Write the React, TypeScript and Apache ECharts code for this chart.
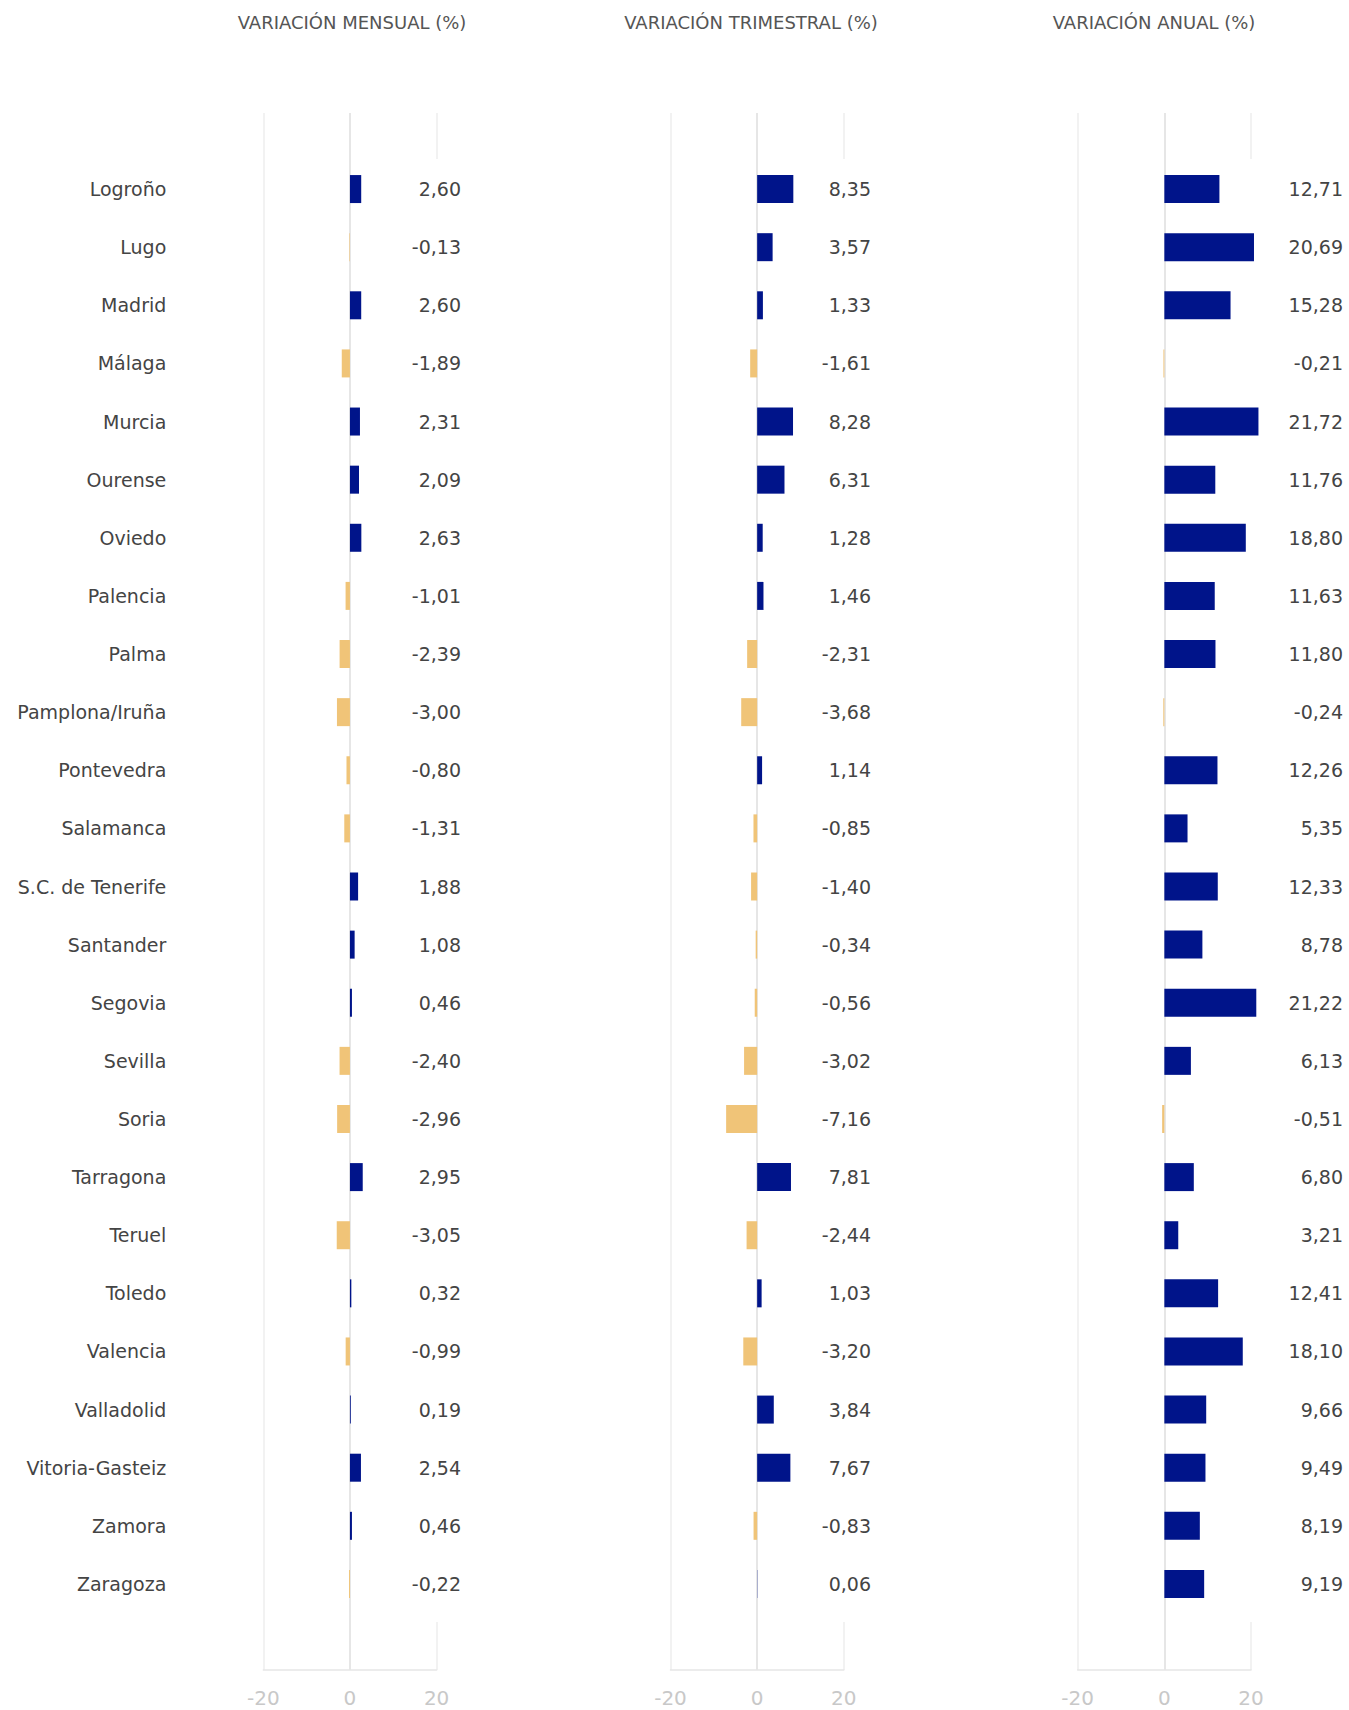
import React, { useEffect, useRef } from "react";
import * as echarts from "echarts";

const categories = [
  "Logroño", "Lugo", "Madrid", "Málaga", "Murcia", "Ourense", "Oviedo", "Palencia",
  "Palma", "Pamplona/Iruña", "Pontevedra", "Salamanca", "S.C. de Tenerife", "Santander",
  "Segovia", "Sevilla", "Soria", "Tarragona", "Teruel", "Toledo", "Valencia",
  "Valladolid", "Vitoria-Gasteiz", "Zamora", "Zaragoza",
];
const mensual = [2.60, -0.13, 2.60, -1.89, 2.31, 2.09, 2.63, -1.01, -2.39, -3.00, -0.80, -1.31, 1.88, 1.08, 0.46, -2.40, -2.96, 2.95, -3.05, 0.32, -0.99, 0.19, 2.54, 0.46, -0.22];
const trimestral = [8.35, 3.57, 1.33, -1.61, 8.28, 6.31, 1.28, 1.46, -2.31, -3.68, 1.14, -0.85, -1.40, -0.34, -0.56, -3.02, -7.16, 7.81, -2.44, 1.03, -3.20, 3.84, 7.67, -0.83, 0.06];
const anual = [12.71, 20.69, 15.28, -0.21, 21.72, 11.76, 18.80, 11.63, 11.80, -0.24, 12.26, 5.35, 12.33, 8.78, 21.22, 6.13, -0.51, 6.80, 3.21, 12.41, 18.10, 9.66, 9.49, 8.19, 9.19];
const titles = ["VARIACIÓN MENSUAL (%)", "VARIACIÓN TRIMESTRAL (%)", "VARIACIÓN ANUAL (%)"];
const axisMin = -20;
const axisMax = 20;
const axisStep = 20;
const barAxisMax = 40;

const panels = [mensual, trimestral, anual];

// layout
const FONT = "DejaVu Sans";
const PANEL_LEFT = [263.3, 670.5, 1077.7];
const AXIS_W = 173.3;
const VALUE_RIGHT = [461, 871, 1343];
const TITLE_CX = [352, 751, 1154];
const BG_TOP = 113;
const BG_BOTTOM = 1670;
const BAR_TOP = 160;
const BAR_H = 1453;
const POS = "#00148A";
const NEG = "#F0C478";

const fmt = (v: number) => v.toFixed(2).replace(".", ",");

export default function App() {
  const ref = useRef<HTMLDivElement>(null);
  useEffect(() => {
    if (!ref.current) return;
    const chart = echarts.init(ref.current, null, { renderer: "svg" });
    const grid: any[] = [];
    const xAxis: any[] = [];
    const yAxis: any[] = [];
    const series: any[] = [];
    const graphic: any[] = [];
    const barW = AXIS_W * (barAxisMax - axisMin) / (axisMax - axisMin);

    panels.forEach((vals, i) => {
      const left = PANEL_LEFT[i];
      const right20 = left + AXIS_W;
      grid.push({ left, top: BG_TOP, width: AXIS_W, height: BG_BOTTOM - BG_TOP, containLabel: false });
      grid.push({ left, top: BAR_TOP, width: barW, height: BAR_H, containLabel: false });

      xAxis.push({
        gridIndex: 2 * i,
        type: "value",
        min: axisMin,
        max: axisMax,
        interval: axisStep,
        position: "bottom",
        axisLine: { show: true, lineStyle: { color: "#e6e6e6", width: 1.5 } },
        axisTick: { show: false },
        axisLabel: { color: "#c8c8c8", fontSize: 20, fontFamily: FONT, margin: 18 },
        splitLine: { show: true, lineStyle: { color: ["#eeeeee", "#dedede", "#eeeeee"], width: 1.5 } },
      });
      xAxis.push({
        gridIndex: 2 * i + 1,
        type: "value",
        min: axisMin,
        max: barAxisMax,
        show: false,
      });

      yAxis.push({ gridIndex: 2 * i, type: "value", min: 0, max: 1, show: false });
      yAxis.push({
        gridIndex: 2 * i + 1,
        type: "category",
        data: categories,
        inverse: true,
        position: "left",
        z: 4,
        axisLine: { show: false },
        axisTick: { show: false },
        splitLine: { show: false },
        axisLabel: {
          show: i === 0,
          interval: 0,
          margin: 97,
          fontSize: 19,
          color: "#444444",
          fontFamily: FONT,
          padding: [5, 0, 0, 0],
        },
      });
      yAxis.push({
        gridIndex: 2 * i + 1,
        type: "category",
        data: categories,
        inverse: true,
        position: "left",
        z: 4,
        axisLine: { show: false },
        axisTick: { show: false },
        splitLine: { show: false },
        axisLabel: {
          show: true,
          interval: 0,
          align: "right",
          margin: left - VALUE_RIGHT[i],
          fontSize: 19,
          color: "#444444",
          fontFamily: FONT,
          padding: [5, 0, 0, 0],
          formatter: (_v: string, idx: number) => fmt(vals[idx]),
        },
      });

      series.push({
        type: "bar",
        xAxisIndex: 2 * i + 1,
        yAxisIndex: 3 * i + 1,
        data: vals,
        barWidth: 28,
        z: 2,
        itemStyle: {
          color: (p: any) => (p.value >= 0 ? POS : NEG),
        },
      });

      graphic.push({
        type: "rect",
        z: 1,
        shape: { x: right20 - 3, y: 159, width: 6, height: 1622 - 159 },
        style: { fill: "#ffffff" },
        silent: true,
      });
      graphic.push({
        type: "text",
        z: 3,
        x: TITLE_CX[i],
        y: 22,
        style: {
          text: titles[i],
          fill: "#555555",
          font: `18px "${FONT}"`,
          textAlign: "center",
          textVerticalAlign: "middle",
        },
      });
    });

    chart.setOption({
      animation: false,
      backgroundColor: "#ffffff",
      grid,
      xAxis,
      yAxis,
      series,
      graphic,
    });
    return () => chart.dispose();
  }, []);
  return (
    <div
      ref={ref}
      style={{ position: "absolute", left: 0, top: 0, width: 1349, height: 1710, background: "#fff" }}
    />
  );
}
